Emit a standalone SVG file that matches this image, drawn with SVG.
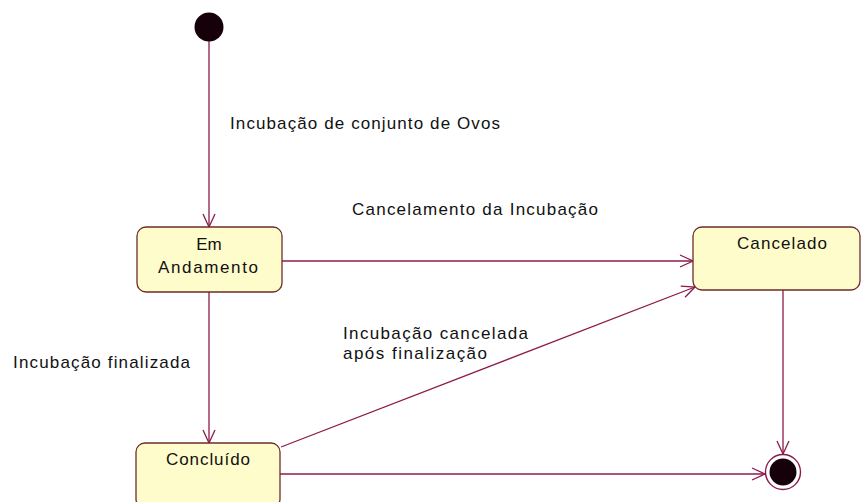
<svg xmlns="http://www.w3.org/2000/svg" width="861" height="502" viewBox="0 0 861 502">
<style>
.st{fill:#FFFCCB;stroke:#6E2B2B;stroke-width:1.3}
.ln{fill:none;stroke:#8C1B4B;stroke-width:1.3}
.t{font-family:"Liberation Sans",Arial,sans-serif;font-size:17px;fill:#111}
.c{text-anchor:middle}
</style>
<defs>
<marker id="ah" markerWidth="16" markerHeight="14" refX="14" refY="7" orient="auto" markerUnits="userSpaceOnUse">
<path d="M1,1 L14,7 L1,13" fill="none" stroke="#8C1B4B" stroke-width="1.3"/>
</marker>
</defs>
<rect width="861" height="502" fill="#FFFFFF"/>
<g id="connectors">
<line class="ln" x1="209" y1="40" x2="209" y2="227" marker-end="url(#ah)"/>
<line class="ln" x1="282" y1="261" x2="693" y2="261" marker-end="url(#ah)"/>
<line class="ln" x1="209" y1="292" x2="209" y2="443" marker-end="url(#ah)"/>
<line class="ln" x1="281" y1="447" x2="695" y2="287" marker-end="url(#ah)"/>
<line class="ln" x1="280" y1="474" x2="765" y2="474" marker-end="url(#ah)"/>
<line class="ln" x1="783" y1="290" x2="783" y2="454" marker-end="url(#ah)"/>
<text class="t" x="230" y="129" textLength="270" lengthAdjust="spacing">Incubação de conjunto de Ovos</text>
<text class="t" x="352" y="215" textLength="246" lengthAdjust="spacing">Cancelamento da Incubação</text>
<text class="t" x="13" y="368" textLength="177" lengthAdjust="spacing">Incubação finalizada</text>
<text class="t" x="343" y="339" textLength="185" lengthAdjust="spacing">Incubação cancelada</text>
<text class="t" x="343" y="359" textLength="144" lengthAdjust="spacing">após finalização</text>
</g>
<g id="initial">
<circle cx="209" cy="27" r="14.5" fill="#16000A"/>
</g>
<g id="em-andamento">
<rect class="st" x="137" y="227" width="145" height="65" rx="9"/>
<text class="t c" x="209" y="250">Em</text>
<text class="t c" x="208" y="273" textLength="100" lengthAdjust="spacing">Andamento</text>
</g>
<g id="cancelado">
<rect class="st" x="693" y="227" width="167" height="63" rx="9"/>
<text class="t c" x="782" y="249" textLength="90" lengthAdjust="spacing">Cancelado</text>
</g>
<g id="concluido">
<rect class="st" x="136" y="443" width="144" height="65" rx="9"/>
<text class="t c" x="208" y="465" textLength="84" lengthAdjust="spacing">Concluído</text>
</g>
<g id="final">
<circle cx="783" cy="472" r="17.5" fill="#FFFFFF" stroke="#8C1B4B" stroke-width="1.4"/>
<circle cx="783" cy="472" r="13.5" fill="#16000A"/>
</g>
</svg>
